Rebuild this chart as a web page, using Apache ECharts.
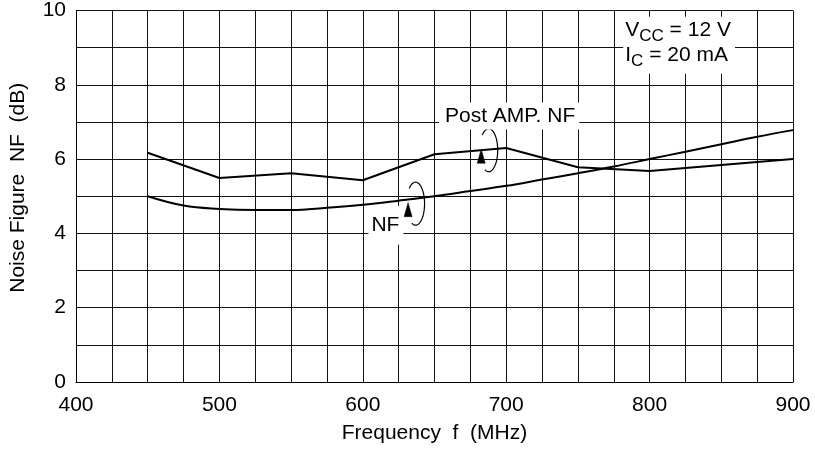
<!DOCTYPE html>
<html>
<head>
<meta charset="utf-8">
<script src="https://cdn.jsdelivr.net/npm/echarts@6/dist/echarts.min.js"></script>
<style>
  html, body { margin: 0; padding: 0; background: #fff; }
  #chart { width: 815px; height: 452px; }
</style>
</head>
<body>
<div id="chart"></div>
<script>
// frequency (MHz) and noise figure (dB)
const nfFreq = [450, 475, 500, 525, 550, 575, 600, 625, 650, 675, 700, 725, 750, 775, 800, 825, 850, 875, 900]
const nfValues = [5.0, 4.75, 4.66, 4.63, 4.63, 4.69, 4.77, 4.88, 5.0, 5.14, 5.28, 5.45, 5.62, 5.8, 6.0, 6.2, 6.4, 6.6, 6.78]
const postFreq = [450, 500, 550, 600, 650, 700, 750, 800, 900]
const postValues = [6.17, 5.49, 5.62, 5.43, 6.13, 6.30, 5.78, 5.68, 6.0]
const xTickLabels = [400, 500, 600, 700, 800, 900]
const yTickLabels = [0, 2, 4, 6, 8, 10]

const FONT = '"Liberation Sans", Arial, sans-serif'
const chart = echarts.init(document.getElementById('chart'), null, { renderer: 'canvas' })

const lineStyle = { color: '#000', width: 2 }

chart.setOption({
  animation: false,
  backgroundColor: '#fff',
  textStyle: { fontFamily: FONT },
  grid: { left: 72, top: 10, width: 721, height: 372 },
  xAxis: {
    type: 'value',
    min: 400,
    max: 900,
    interval: 25,
    name: 'Frequency  f  (MHz)',
    nameLocation: 'middle',
    nameGap: 41,
    nameTextStyle: { color: '#000', fontSize: 21, fontFamily: FONT },
    axisLine: { lineStyle: { color: '#000', width: 1 } },
    axisTick: { show: false },
    axisLabel: {
      color: '#000', fontSize: 21, fontFamily: FONT, margin: 13,
      formatter: v => xTickLabels.includes(v) ? String(v) : ''
    },
    splitLine: { show: true, lineStyle: { color: '#111', width: 1 } }
  },
  yAxis: {
    type: 'value',
    min: 0,
    max: 10,
    interval: 1,
    name: 'Noise Figure  NF  (dB)',
    nameLocation: 'middle',
    nameGap: 47,
    nameRotate: 90,
    nameTextStyle: { color: '#000', fontSize: 21, fontFamily: FONT, padding: [0, 0, 0, 17] },
    axisLine: { show: true, lineStyle: { color: '#000', width: 1 } },
    axisTick: { show: false },
    axisLabel: {
      color: '#000', fontSize: 21, fontFamily: FONT, margin: 10,
      formatter: v => yTickLabels.includes(v) ? String(v) : ''
    },
    splitLine: { show: true, lineStyle: { color: '#111', width: 1 } }
  },
  series: [
    {
      name: 'NF',
      type: 'line',
      smooth: 0.4,
      symbol: 'none',
      lineStyle: lineStyle,
      data: nfFreq.map((f, i) => [f, nfValues[i]])
    },
    {
      name: 'Post AMP. NF',
      type: 'line',
      symbol: 'none',
      lineStyle: lineStyle,
      data: postFreq.map((f, i) => [f, postValues[i]])
    }
  ]
})

// annotations, anchored in data coordinates
function px(x, y) { return chart.convertToPixel({ gridIndex: 0 }, [x, y]) }

function loop(cx, cy) {
  const rx = 9, ry = 21.5
  const pts = []
  for (let a = -45; a <= 205; a += 5) {
    const t = a * Math.PI / 180
    pts.push([cx + rx * Math.sin(t), cy - ry * Math.cos(t)])
  }
  return [
    { type: 'polyline', shape: { points: pts }, style: { stroke: '#000', lineWidth: 1.2, fill: null }, z: 10 },
    { type: 'polygon', shape: { points: [[cx - 7.5, cy - 1], [cx - 11.5, cy + 13], [cx - 3.5, cy + 13]] }, style: { fill: '#000', stroke: '#000', lineWidth: 0.5 }, z: 10 }
  ]
}

const postLoop = px(687.8, 6.24)
const nfLoop = px(636.8, 4.80)
const postLbl = px(657.3, 7.16)
const nfLbl = px(606, 4.22)
const condLbl = px(783.0, 9.83)

chart.setOption({
  graphic: [
    ...loop(postLoop[0], postLoop[1]),
    ...loop(nfLoop[0], nfLoop[1]),
    {
      type: 'text', x: postLbl[0] - 6, y: postLbl[1], z: 10,
      style: { text: 'Post AMP. NF', font: '21px ' + FONT, fill: '#000', align: 'left', verticalAlign: 'middle', backgroundColor: '#fff', padding: [3, 4, 3, 6] }
    },
    {
      type: 'text', x: nfLbl[0] - 3, y: nfLbl[1], z: 10,
      style: { text: 'NF', font: '21px ' + FONT, fill: '#000', align: 'left', verticalAlign: 'middle', backgroundColor: '#fff', padding: [12, 4, 6, 3] }
    },
    {
      type: 'text', x: condLbl[0] - 2, y: condLbl[1], z: 10,
      style: {
        text: '{n|V}{s|CC}{n| = 12 V}\n{n|I}{s|C}{n| = 20 mA}',
        align: 'left', verticalAlign: 'top', backgroundColor: '#fff', padding: [3, 4, 4, 2],
        rich: {
          n: { fontSize: 21, fontFamily: FONT, fill: '#000', color: '#000', lineHeight: 25, verticalAlign: 'top' },
          s: { fontSize: 17, fontFamily: FONT, fill: '#000', color: '#000', lineHeight: 17, verticalAlign: 'bottom' }
        }
      }
    }
  ]
})
</script>
</body>
</html>
